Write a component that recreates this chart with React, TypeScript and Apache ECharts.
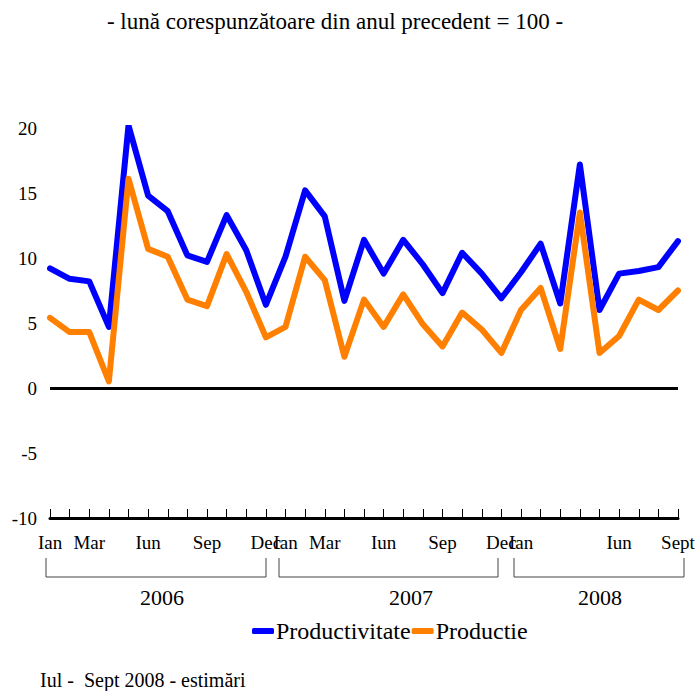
import React, { useEffect, useRef } from "react";
import * as echarts from "echarts";

const months = ["Ian", "Feb", "Mar", "Apr", "Mai", "Iun", "Iul", "Aug", "Sep", "Oct", "Noi", "Dec"];
const years = [2006, 2007, 2008];
const categories: string[] = [];
years.forEach((y) => months.forEach((m, i) => { if (y < 2008 || i < 9) categories.push(m + " " + y); }));

const tickLabels = [
  "Ian", "", "Mar", "", "", "Iun", "", "", "Sep", "", "", "Dec",
  "Ian", "", "Mar", "", "", "Iun", "", "", "Sep", "", "", "Dec",
  "Ian", "", "", "", "", "Iun", "", "", "Sept",
];

const productivitate = [
  9.2, 8.4, 8.2, 4.7, 20.2, 14.8, 13.6, 10.2, 9.7, 13.3, 10.6, 6.4,
  10.1, 15.2, 13.2, 6.7, 11.4, 8.8, 11.4, 9.5, 7.3, 10.4, 8.8, 6.9,
  8.9, 11.1, 6.5, 17.2, 6.0, 8.8, 9.0, 9.3, 11.3,
];
const productie = [
  5.4, 4.3, 4.3, 0.5, 16.1, 10.7, 10.1, 6.8, 6.3, 10.3, 7.4, 3.9,
  4.7, 10.1, 8.3, 2.4, 6.8, 4.7, 7.2, 4.9, 3.2, 5.8, 4.5, 2.7,
  6.0, 7.7, 3.0, 13.5, 2.7, 4.0, 6.8, 6.0, 7.5,
];
const yearLabels = ["2006", "2007", "2008"];

const FONT = "'Liberation Serif', 'Times New Roman', serif";

export default function App() {
  const ref = useRef<HTMLDivElement>(null);
  useEffect(() => {
    if (!ref.current) return;
    const chart = echarts.init(ref.current, null, { renderer: "svg" });
    const brackets = [
      { x1: 46, x2: 266, tx: 162 },
      { x1: 279, x2: 498, tx: 411 },
      { x1: 514, x2: 684, tx: 600 },
    ];
    const graphic: any[] = [
      {
        type: "text", x: 335, y: 21,
        style: { text: "- lună corespunzătoare din anul precedent = 100 -", fontFamily: FONT, fontSize: 23, fill: "#000", textAlign: "center", textVerticalAlign: "middle" },
      },
      {
        type: "text", x: 40, y: 680,
        style: { text: "Iul -  Sept 2008 - estimări", fontFamily: FONT, fontSize: 20, fill: "#000", textAlign: "left", textVerticalAlign: "middle" },
      },
    ];
    brackets.forEach((b, i) => {
      graphic.push({
        type: "polyline",
        shape: { points: [[b.x1, 558], [b.x1, 577], [b.x2, 577], [b.x2, 558]] },
        style: { stroke: "#444", lineWidth: 1, fill: null },
      });
      graphic.push({
        type: "text", x: b.tx, y: 597,
        style: { text: yearLabels[i], fontFamily: FONT, fontSize: 22, fill: "#000", textAlign: "center", textVerticalAlign: "middle" },
      });
    });
    chart.setOption({
      animation: false,
      grid: { left: 50, right: 20, top: 128, bottom: 173 },
      legend: {
        left: 247, top: 614,
        itemGap: 1, itemWidth: 22, itemHeight: 6,
        textStyle: { fontFamily: FONT, fontSize: 24, color: "#000", padding: [0, 0, 0, -3] },
        data: [
          { name: "Productivitate", icon: "roundRect" },
          { name: "Productie", icon: "roundRect" },
        ],
      },
      xAxis: {
        type: "category",
        data: categories,
        boundaryGap: false,
        position: "bottom",
        axisLine: { onZero: false, lineStyle: { color: "#000", width: 3 } },
        axisTick: { inside: true, length: 9, interval: 0, lineStyle: { color: "#000", width: 1 } },
        axisLabel: {
          interval: 0, margin: 15, fontFamily: FONT, fontSize: 19, color: "#000",
          formatter: (_v: string, i: number) => tickLabels[i],
        },
        splitLine: { show: false },
      },
      yAxis: {
        type: "value",
        min: -10, max: 20, interval: 5,
        axisLine: { show: false },
        axisTick: { show: false },
        splitLine: { show: false },
        axisLabel: { margin: 13, fontFamily: FONT, fontSize: 19, color: "#000" },
      },
      series: [
        {
          name: "Productivitate", type: "line", data: productivitate,
          symbol: "none", color: "#0000FF",
          lineStyle: { width: 6, color: "#0000FF", cap: "round", join: "round" },
          markLine: {
            silent: true, symbol: "none", label: { show: false },
            lineStyle: { color: "#000", width: 3, type: "solid" },
            data: [{ yAxis: 0 }],
          },
          z: 3,
        },
        {
          name: "Productie", type: "line", data: productie,
          symbol: "none", color: "#FF8000",
          lineStyle: { width: 6, color: "#FF8000", cap: "round", join: "round" },
          z: 4,
        },
      ],
      graphic,
    });
    return () => chart.dispose();
  }, []);
  return <div ref={ref} style={{ width: 698, height: 691, position: "absolute", left: 0, top: 0 }} />;
}
